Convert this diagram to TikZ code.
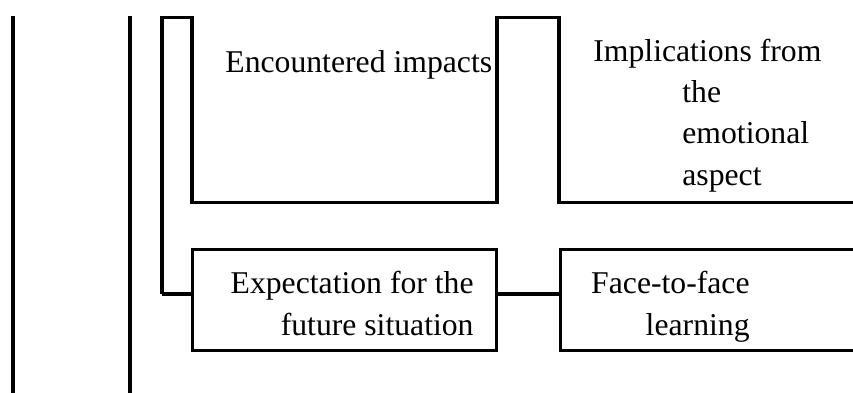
\documentclass[tikz,border=0pt]{standalone}
\usepackage{fontspec}
\setmainfont{Liberation Serif}
\usetikzlibrary{positioning,calc}
\tikzset{
  frame/.style={draw=black, line width=1.6pt},
  rail/.style={draw=black, line width=2pt},
  lbl/.style={font=\fontsize{15.85}{20.6}\selectfont, inner sep=0pt},
  box/.style={frame, minimum width=152.3pt, minimum height=50.5pt, inner sep=0pt}
}
\begin{document}
\begin{tikzpicture}[x=0.5pt,y=-0.5pt]
\clip (0,0) rectangle (853,392);

% side rails (cut off at the lower edge)
\coordinate (railA top) at (13,16);
\coordinate (railA bot) at (13,400);
\coordinate (railB top) at (130,16);
\coordinate (railB bot) at (130,400);
\draw[rail] (railA top) -- (railA bot);
\draw[rail] (railB top) -- (railB bot);

% upper row: open frames
\coordinate (split) at (162,294);
\coordinate (brk top) at (162,17.5);
\draw[frame] (split) -- (brk top) -- (192,17.5) -- (192,202.5) -- (497,202.5)
  -- (497,17.5) -- (559,17.5) -- (559,202.5) -- (870,202.5);

\node[lbl, anchor=base west] (impacts) at (225,72) {Encountered impacts};
% base anchor = baseline of the last line
\node[lbl, anchor=base west, align=left] (emotion) at (593,185)
{Implications from\\
\hspace*{44.5pt}the\\
\hspace*{44.5pt}emotional\\
\hspace*{44.5pt}aspect};

% lower row: boxes
\node[box] (expbox) at (344.5,300) {};
\node[box, minimum width=170pt, anchor=west] (facebox) at (559,300) {};

\node[lbl, anchor=base east, align=right] (expect) at (474,335)
{Expectation for the\\future situation};
\node[lbl, anchor=base east, align=right] (face) at (750,335)
{Face-to-face\\learning};

\draw[frame] (split) -- (expbox.west |- split);
\draw[frame] (expbox.east |- split) -- (facebox.west |- split);

\end{tikzpicture}
\end{document}
